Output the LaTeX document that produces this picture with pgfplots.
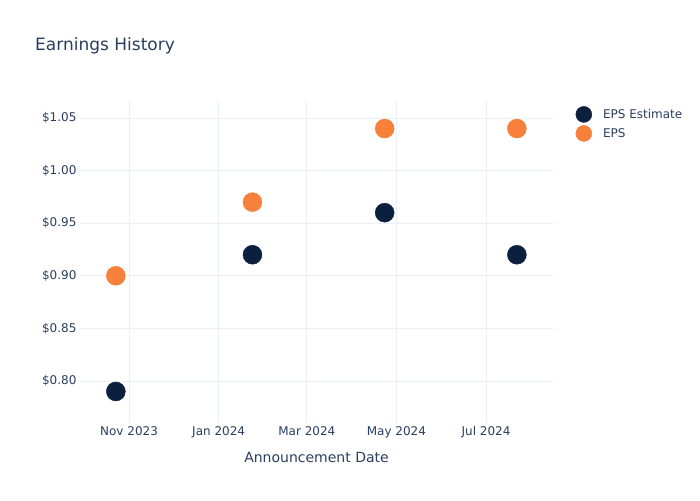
\documentclass[border=0pt]{standalone}
\usepackage{fontspec}
\setmainfont{DejaVu Sans}
\usepackage{pgfplots}
\pgfplotsset{compat=1.18}
\definecolor{txt}{HTML}{2A3F5F}
\definecolor{navy}{HTML}{0B1F3F}
\definecolor{eps}{HTML}{F7803A}
\definecolor{gridc}{HTML}{EBF0F8}
\begin{document}
\begin{tikzpicture}[x=1pt,y=1pt]
\useasboundingbox[fill=white] (0,0) rectangle (700,500);
\node[anchor=base west, text=txt, font=\fontsize{17}{20}\selectfont, inner sep=0] at (35,449) {Earnings History};
\begin{axis}[
  at={(80pt,77pt)}, anchor=south west, scale only axis,
  width=473pt, height=322pt,
  xmin=-33.4, xmax=288.6, ymin=0.760, ymax=1.0662,
  axis line style={draw=none}, major tick length=0pt,
  xtick={0,61,121,182,243},
  xticklabels={Nov 2023,Jan 2024,Mar 2024,May 2024,Jul 2024},
  ytick={0.80,0.85,0.90,0.95,1.00,1.05},
  yticklabels={\$0.80,\$0.85,\$0.90,\$0.95,\$1.00,\$1.05},
  grid=major, grid style={gridc, line width=0.8pt},
  ticklabel style={text=txt, font=\fontsize{12}{14}\selectfont},
  xlabel={Announcement Date},
  xlabel style={at={(axis description cs:0.5,0)}, anchor=center, yshift=-34pt, text=txt, font=\fontsize{14}{16}\selectfont},
  legend style={at={(1.04,0.99)}, anchor=north west, draw=none, fill=none, text=txt, font=\fontsize{12}{14}\selectfont, row sep=3pt},
  legend cell align=left,
  legend image code/.code={\path (0pt,0pt) (25.5pt,0pt); \draw[#1, mark size=8pt] plot coordinates {(8.5pt,0pt)};},
  clip=false,
]
\addplot[only marks, mark=*, mark size=9.5pt, mark options={draw=navy, fill=navy}] coordinates {(-9,0.79) (84,0.92) (174,0.96) (264,0.92)};
\addlegendentry{EPS Estimate}
\addplot[only marks, mark=*, mark size=9.5pt, mark options={draw=eps, fill=eps}] coordinates {(-9,0.90) (84,0.97) (174,1.04) (264,1.04)};
\addlegendentry{EPS}
\end{axis}
\end{tikzpicture}
\end{document}
